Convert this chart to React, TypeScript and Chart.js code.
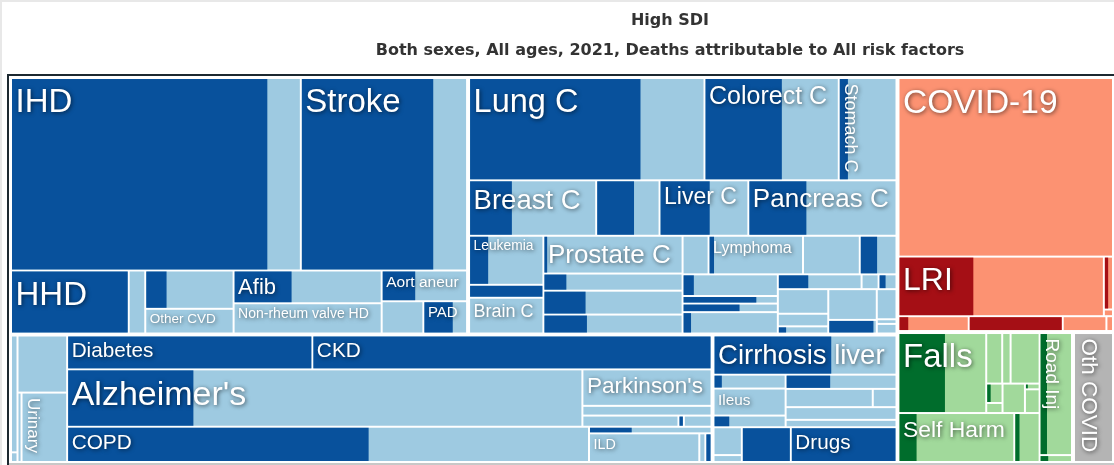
import React, { useEffect, useRef } from "react";
import { Chart, registerables } from "chart.js";

Chart.register(...registerables);

// ---------- DATA (deaths, thousands; share = fraction attributable to risk factors) ----------
const cvdNames = ["IHD", "Stroke", "HHD", "Rheum HD", "Cardiomyopathy", "Other CVD", "Afib", "Non-rheum valve HD", "Aort aneur", "Endocarditis", "PAD"];
const cvdDeaths = [1407, 809, 190, 26.5, 84.6, 56.8, 121.3, 115.7, 66.4, 34.7, 37.2];
const cvdShare = [0.887, 0.8, 1, 0, 0.235, 0, 0.39, 0, 0.39, 0, 0.68];

const neoNames = ["Lung C", "Colorect C", "Stomach C", "Breast C", "Esophag C", "Liver C", "Pancreas C", "Leukemia", "Mesothelioma", "Brain C", "Prostate C", "Bladder C", "Kidney C", "Larynx C", "Myeloma", "Lymphoma", "Ovarian C", "Lip oral C", "Uterine C", "Nasopharynx C", "Oth pharynx C", "Gallbladder C", "NM skin C", "Thyroid C", "Testicular C", "Other neoplasms", "Bone C", "Hodgkin", "Oth malig neo", "Melanoma", "Benign neo", "Eye C", "Neuroblastoma"];
const neoDeaths = [610.7, 346.8, 151.7, 177.6, 87.8, 123.1, 206.7, 92.4, 24.3, 69.3, 131.5, 59.6, 83.1, 69.4, 25.1, 91.1, 54.8, 36.4, 51.6, 18.0, 20.4, 53.3, 31.0, 6.3, 7.0, 31.0, 15.9, 10.3, 37.3, 17.7, 15.6, 2.4, 5.5];
const neoShare = [0.73, 0.577, 0.146, 0.334, 0.6, 0.566, 0.39, 0.25, 1, 0, 0.02, 0.16, 0.3, 0.31, 0, 0.048, 0, 0.47, 0.11, 0.78, 0.6, 0.08, 0.36, 0, 0.375, 0, 0, 0.15, 0, 0.95, 0, 0, 0];

const respNames = ["COVID-19", "LRI", "URI", "Otitis", "Meningitis", "HIV/AIDS", "Diarrheal", "Encephalitis"];
const respDeaths = [972.2, 307.4, 13.4, 1.7, 28.2, 37.2, 17.3, 3.0];
const respShare = [0, 0.363, 0.46, 0, 0.128, 1, 0, 0];

const ncdNames = ["Congenital", "Hemoglobinop", "Endocrine", "Skin", "Urinary", "Diabetes", "CKD", "Alzheimer's", "Parkinson's", "Epilepsy", "Motor neuron", "MS", "Oth neuro", "COPD", "Asthma", "ILD", "Oth chr resp", "Pneumoconiosis"];
const ncdDeaths = [22.1, 2.0, 72.1, 7.1, 80.3, 213.6, 348.6, 739.2, 118.7, 31.7, 26.8, 1.5, 8.0, 473.1, 20.4, 81.8, 4.5, 5.3];
const ncdShare = [0, 0, 0, 0, 0, 1, 1, 0.244, 0, 0, 0, 1, 0, 0.578, 0.346, 0, 0, 1];

const digNames = ["Cirrhosis liver", "Pancreatitis", "Ileus", "Gallbladder dis", "Upper digest", "Oth digest", "IBD", "Vasc intest", "Hernia", "Oth mental", "Eating dis", "Alcohol", "Drugs"];
const digDeaths = [185.6, 25.4, 49.4, 21.3, 39.8, 39.8, 11.3, 35.5, 20.7, 20.4, 5.8, 43.8, 95.4];
const digShare = [0.645, 0.104, 0, 0.21, 0.4, 0, 0, 0, 0, 0, 0, 1, 1];

const injNames = ["Falls", "Poisonings", "Fire", "Oth unintent", "Drowning", "Animal contact", "Mech forces", "Exposure", "Interpers viol", "Self Harm", "Adverse effects", "Road Inj", "Oth transport"];
const injDeaths = [179.7, 20.6, 10.8, 37.4, 7.9, 4.1, 16.5, 2.1, 8.7, 145.9, 31.6, 102.7, 6.6];
const injShare = [0.53, 0, 0, 0, 0.24, 0, 0, 0.15, 0, 0.15, 0.18, 0.21, 0.25];

const othNames = ["Oth COVID"];
const othDeaths = [134.3];
const othShare = [0];

// ---------- STRUCTURE (slice direction of each nesting level) ----------
type TNode = number | { d: "h" | "v"; c: TNode[] };
const H = (...c: TNode[]): TNode => ({ d: "h", c });
const V = (...c: TNode[]): TNode => ({ d: "v", c });

const cvdTree = V(H(0, 1), H(2, 3, V(4, 5), V(6, 7), V(8, H(9, 10))));
const neoTree = V(
  H(0, 1, 2),
  H(3, 4, 5, 6),
  H(V(7, 8, 9), V(10, 11, 12, 13), V(H(14, 15, 16, 17), H(V(18, 19, 20, 21), V(H(22, 23, 24), H(V(25, 26, 27), V(28, 29), V(30, 31, 32))))))
);
const respTree = V(0, H(1, V(2, 3)), H(4, 5, 6, 7));
const ncdTree = H(H(V(0, 1), V(2, H(3, 4))), V(H(5, 6), H(7, V(8, 9, H(10, 11, 12))), H(13, V(14, H(15, 16, 17)))));
const digTree = V(0, H(V(1, 2, 3), V(4, H(5, 6), 7, 8)), H(V(9, 10), 11, 12));
const injTree = H(V(H(0, V(H(1, 2, 3), H(V(4, 5), 6, V(7, 8)))), H(9, 10)), V(11, 12));
const othTree: TNode = 0;

// ---------- STYLE ----------
const PAL: Record<string, { dark: string; light: string }> = {
  blue: { dark: "#08519c", light: "#9ecae1" },
  red: { dark: "#a50f15", light: "#fc9272" },
  green: { dark: "#006d2c", light: "#a1d99b" },
  gray: { dark: "#969696", light: "#b4b4b4" },
};

const groups = [
  { names: cvdNames, deaths: cvdDeaths, share: cvdShare, tree: cvdTree, pal: "blue" },
  { names: neoNames, deaths: neoDeaths, share: neoShare, tree: neoTree, pal: "blue" },
  { names: ncdNames, deaths: ncdDeaths, share: ncdShare, tree: ncdTree, pal: "blue" },
  { names: digNames, deaths: digDeaths, share: digShare, tree: digTree, pal: "blue" },
  { names: respNames, deaths: respDeaths, share: respShare, tree: respTree, pal: "red" },
  { names: injNames, deaths: injDeaths, share: injShare, tree: injTree, pal: "green" },
  { names: othNames, deaths: othDeaths, share: othShare, tree: othTree, pal: "gray" },
];
const topTree = H(V(H(0, 1), H(2, 3)), V(4, H(5, 6)));

const labelSize: Record<string, number> = {
  IHD: 33, Stroke: 33, HHD: 33, Afib: 22, "Other CVD": 13.5, "Non-rheum valve HD": 14, "Aort aneur": 15.5, PAD: 15,
  "Lung C": 32.5, "Colorect C": 25, "Stomach C": 18, "Breast C": 27.5, "Liver C": 23, "Pancreas C": 26,
  Leukemia: 13.8, "Brain C": 18, "Prostate C": 26, Lymphoma: 16, "COVID-19": 33.5, LRI: 32,
  Diabetes: 20.7, CKD: 20.8, "Alzheimer's": 34, "Parkinson's": 22.6, COPD: 20.8, ILD: 14.3,
  "Cirrhosis liver": 27.5, Ileus: 15.3, Drugs: 20.7, Falls: 33, "Self Harm": 22.9, "Road Inj": 19,
  "Oth COVID": 22.5, Urinary: 17,
};
const rotated = new Set(["Stomach C", "Urinary", "Road Inj", "Oth COVID"]);
const LABEL_FONT = '"Liberation Sans", Arial, sans-serif';
const TITLE_FONT = '"DejaVu Sans", "Liberation Sans", sans-serif';
const TITLE = "High SDI";
const SUBTITLE = "Both sexes, All ages, 2021, Deaths attributable to All risk factors";
const FULL_WIDTH = 1340; // original figure width (screenshot is cropped)

// ---------- LAYOUT ----------
type R = { x0: number; y0: number; x1: number; y1: number };
function nodeSum(n: TNode, vals: number[]): number {
  return typeof n === "number" ? vals[n] : n.c.reduce((s, k) => s + nodeSum(k, vals), 0);
}
function split(n: TNode, vals: number[], r: R, cb: (i: number, r: R) => void) {
  if (typeof n === "number") { cb(n, r); return; }
  const tot = nodeSum(n, vals);
  let pos = n.d === "h" ? r.x0 : r.y0;
  for (const k of n.c) {
    const f = nodeSum(k, vals) / tot;
    if (n.d === "h") {
      const w = (r.x1 - r.x0) * f;
      split(k, vals, { x0: pos, x1: pos + w, y0: r.y0, y1: r.y1 }, cb);
      pos += w;
    } else {
      const h = (r.y1 - r.y0) * f;
      split(k, vals, { x0: r.x0, x1: r.x1, y0: pos, y1: pos + h }, cb);
      pos += h;
    }
  }
}

type Cell = { name: string; share: number; pal: string; r: R; g: R };
function buildCells(): Cell[] {
  const totals = groups.map((g) => g.deaths.reduce((a, b) => a + b, 0));
  const cells: Cell[] = [];
  split(topTree, totals, { x0: 0, y0: 0, x1: 1, y1: 1 }, (gi, gr) => {
    const g = groups[gi];
    split(g.tree, g.deaths, gr, (i, r) => {
      cells.push({ name: g.names[i], share: g.share[i], pal: g.pal, r, g: gr });
    });
  });
  return cells;
}

const treemapPlugin = {
  id: "treemap",
  afterDraw(chart: any) {
    const ctx: CanvasRenderingContext2D = chart.ctx;
    const xs = chart.scales.x;
    const ys = chart.scales.y;
    const W = chart.width;
    const Hh = chart.height;
    ctx.save();
    // frame
    ctx.fillStyle = "#e8e8e8";
    ctx.fillRect(0, 0, W, 2);
    ctx.fillRect(0, 0, 2, Hh);
    ctx.fillStyle = "#1c2830";
    ctx.fillRect(7, 74, 2, Hh - 74);
    ctx.fillRect(7, 74, W - 7, 2);
    ctx.fillStyle = "#c8c8c8";
    ctx.fillRect(9, Hh - 2, W - 9, 2);

    // titles
    ctx.fillStyle = "#333";
    ctx.textAlign = "center";
    ctx.textBaseline = "middle";
    ctx.font = `bold 16px ${TITLE_FONT}`;
    ctx.fillText(TITLE, FULL_WIDTH / 2, 21);
    ctx.fillText(SUBTITLE, FULL_WIDTH / 2, 51);

    const cells = buildCells();
    const eps = 1e-9;
    const boxes = cells.map((c) => {
      const px0 = xs.getPixelForValue(c.r.x0), px1 = xs.getPixelForValue(c.r.x1);
      const py0 = ys.getPixelForValue(c.r.y0), py1 = ys.getPixelForValue(c.r.y1);
      const l = px0 + 1 + (Math.abs(c.r.x0 - c.g.x0) < eps ? 1 : 0);
      const rr = px1 - 1 - (Math.abs(c.r.x1 - c.g.x1) < eps ? 1 : 0);
      const t = py0 + 1 + (Math.abs(c.r.y0 - c.g.y0) < eps ? 1 : 0);
      const b = py1 - 1 - (Math.abs(c.r.y1 - c.g.y1) < eps ? 1 : 0);
      return { c, l, r: rr, t, b };
    });
    for (const bx of boxes) {
      const w = Math.max(0, bx.r - bx.l), h = Math.max(0, bx.b - bx.t);
      const p = PAL[bx.c.pal];
      ctx.fillStyle = p.light;
      ctx.fillRect(bx.l, bx.t, w, h);
      if (bx.c.share > 0) {
        ctx.fillStyle = p.dark;
        ctx.fillRect(bx.l, bx.t, w * bx.c.share, h);
      }
    }
    // labels
    ctx.fillStyle = "#ffffff";
    ctx.textAlign = "left";
    ctx.textBaseline = "alphabetic";
    ctx.shadowColor = "rgba(0,0,0,0.6)";
    ctx.shadowBlur = 4;
    ctx.shadowOffsetX = 1;
    ctx.shadowOffsetY = 1;
    for (const bx of boxes) {
      const s = labelSize[bx.c.name];
      if (!s) continue;
      ctx.font = `${s}px ${LABEL_FONT}`;
      if (rotated.has(bx.c.name)) {
        ctx.save();
        ctx.translate(bx.l + 0.3 * s, bx.t + 4.5);
        ctx.rotate(Math.PI / 2);
        ctx.fillText(bx.c.name, 0, 0);
        ctx.restore();
      } else {
        ctx.fillText(bx.c.name, bx.l + 3.5, bx.t + 1.025 * s - 0.5);
      }
    }
    ctx.restore();
  },
};

export default function App() {
  const ref = useRef<HTMLCanvasElement>(null);
  useEffect(() => {
    if (!ref.current) return;
    const chart = new Chart(ref.current, {
      type: "scatter",
      data: { datasets: [{ data: [], pointRadius: 0 }] },
      options: {
        responsive: false,
        animation: false,
        events: [],
        layout: { padding: { left: 10, right: 0, top: 77, bottom: 2 } },
        scales: {
          x: { type: "linear", min: 0, max: 1, display: false },
          y: { type: "linear", min: 0, max: 1, reverse: true, display: false },
        },
        plugins: { legend: { display: false }, tooltip: { enabled: false }, title: { display: false } },
      },
      plugins: [treemapPlugin],
    } as any);
    return () => chart.destroy();
  }, []);
  return (
    <div style={{ position: "absolute", left: 0, top: 0, width: 1114, height: 465, overflow: "hidden", background: "#fff" }}>
      <canvas ref={ref} width={1114} height={465} style={{ display: "block", width: 1114, height: 465 }} />
    </div>
  );
}
